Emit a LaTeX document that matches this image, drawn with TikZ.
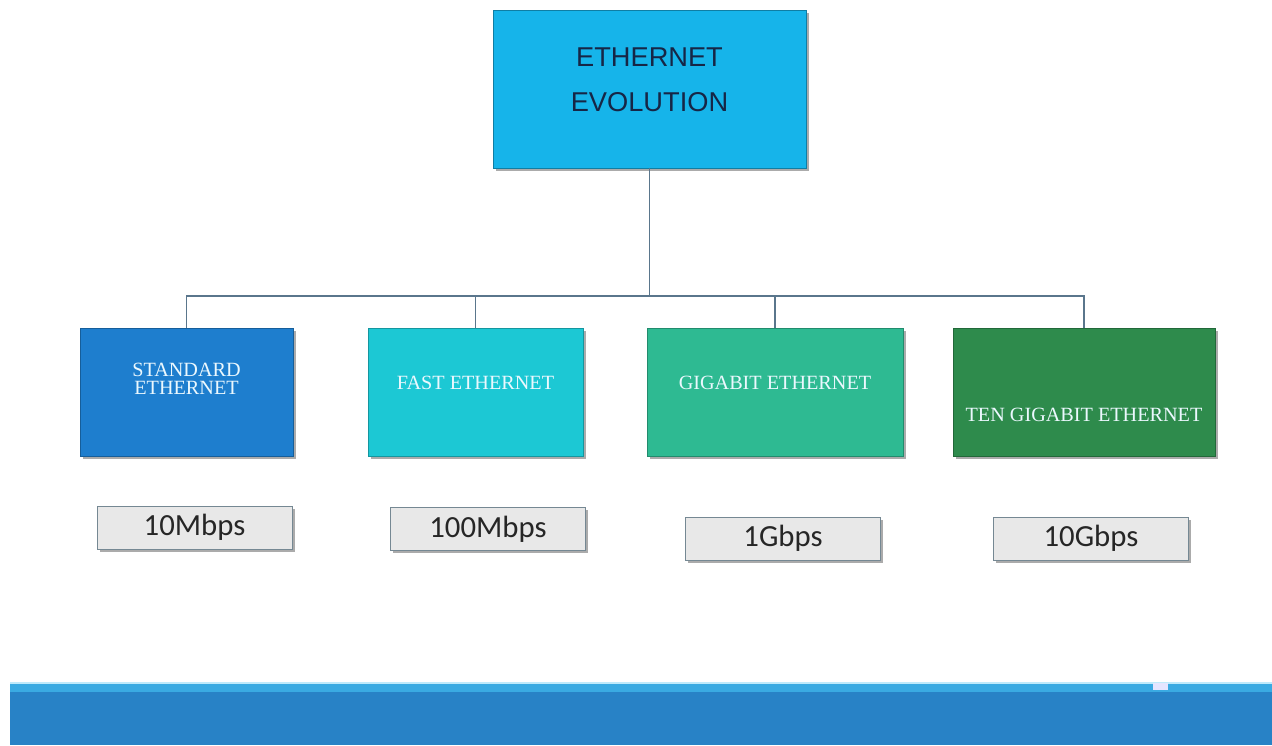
\documentclass[tikz,border=0pt]{standalone}
\usepackage{fontspec}
\usepackage{tikz}
\usetikzlibrary{shadows,calc,positioning}
\newfontfamily\headfont{Liberation Sans}
\newfontfamily\kindfont{Liberation Serif}
\newfontfamily\ratefont{Carlito}
\definecolor{skyblue}{RGB}{22,180,234}
\definecolor{stdblue}{RGB}{30,126,206}
\definecolor{fastcyan}{RGB}{28,200,212}
\definecolor{gigteal}{RGB}{46,186,146}
\definecolor{tengreen}{RGB}{46,139,76}
\definecolor{linkgray}{RGB}{90,118,140}
\definecolor{barblue}{RGB}{40,130,198}
\definecolor{barlight}{RGB}{58,170,226}
\definecolor{titleink}{RGB}{22,38,70}
\tikzset{
  boxshadow/.style={
    drop shadow={shadow xshift=1.6pt, shadow yshift=-1.6pt, fill=black!55, opacity=.6}
  },
  headbox/.style={
    shape=rectangle,
    draw=skyblue!70!black,
    fill=skyblue,
    boxshadow,
    minimum width=6.26cm,
    minimum height=3.16cm,
    inner sep=0pt
  },
  headtext/.style={
    font=\headfont\fontsize{15.5}{25.5}\selectfont,
    text=titleink,
    align=center,
    inner sep=1pt
  },
  kindbox/.style={
    shape=rectangle,
    draw=#1!75!black,
    fill=#1,
    boxshadow,
    minimum height=2.56cm,
    inner sep=0pt
  },
  kindtext/.style={
    font=\kindfont\fontsize{11.5}{10.2}\selectfont,
    text=white!92!cyan,
    align=center,
    inner sep=1pt
  },
  ratebox/.style={
    shape=rectangle,
    draw=black!45!cyan!40!gray,
    fill=black!9,
    boxshadow,
    minimum width=3.9cm,
    minimum height=0.86cm,
    inner sep=0pt,
    font=\ratefont\fontsize{17.5}{19}\selectfont,
    text=black!85
  },
  link/.style={
    draw=linkgray,
    line width=0.9pt
  }
}
\begin{document}
\begin{tikzpicture}[x=0.02cm,y=-0.02cm]
    \useasboundingbox (0,0) rectangle (1272,745);
    \def\busy{296}
    % root
    \node[headbox] (root) at (649.5,89) {};
    \node[headtext] (roottxt) at ($(root.center)+(0,-9)$) {ETHERNET\\EVOLUTION};
    \coordinate (bus) at (649.5,\busy);
    \draw[link] (root.south) -- (bus);
    % kinds of ethernet
    \foreach \nm/\cx/\bw/\col/\dy/\txt in {
        std/186.5/213/stdblue/-13/{STANDARD\\ETHERNET},
        fast/475.5/215/fastcyan/-9/{FAST ETHERNET},
        gig/775/256/gigteal/-9/{GIGABIT ETHERNET},
        ten/1084/262/tengreen/23/{TEN GIGABIT ETHERNET}}{
        \node[kindbox=\col, minimum width=\bw*0.02cm] (\nm) at (\cx,392) {};
        \node[kindtext] (\nm txt) at ($(\nm.center)+(0,\dy)$) {\txt};
        \draw[link] (bus) -| (\nm.north);
    }
    % speeds
    \node[ratebox] (stdrate)  at (194.5,527.5) {10Mbps};
    \node[ratebox] (fastrate) at (488,529)     {100Mbps};
    \node[ratebox] (gigrate)  at (783,538.5)   {1Gbps};
    \node[ratebox] (tenrate)  at (1091,538.5)  {10Gbps};
    % footer bar
    \fill[barblue] (10,683) rectangle (1272,745);
    \fill[barlight] (10,683) rectangle (1272,692);
    \fill[cyan!25] (10,681.5) rectangle (1272,683.5);
    \fill[blue!10] (1153,683) rectangle (1168,690);
\end{tikzpicture}
\end{document}
